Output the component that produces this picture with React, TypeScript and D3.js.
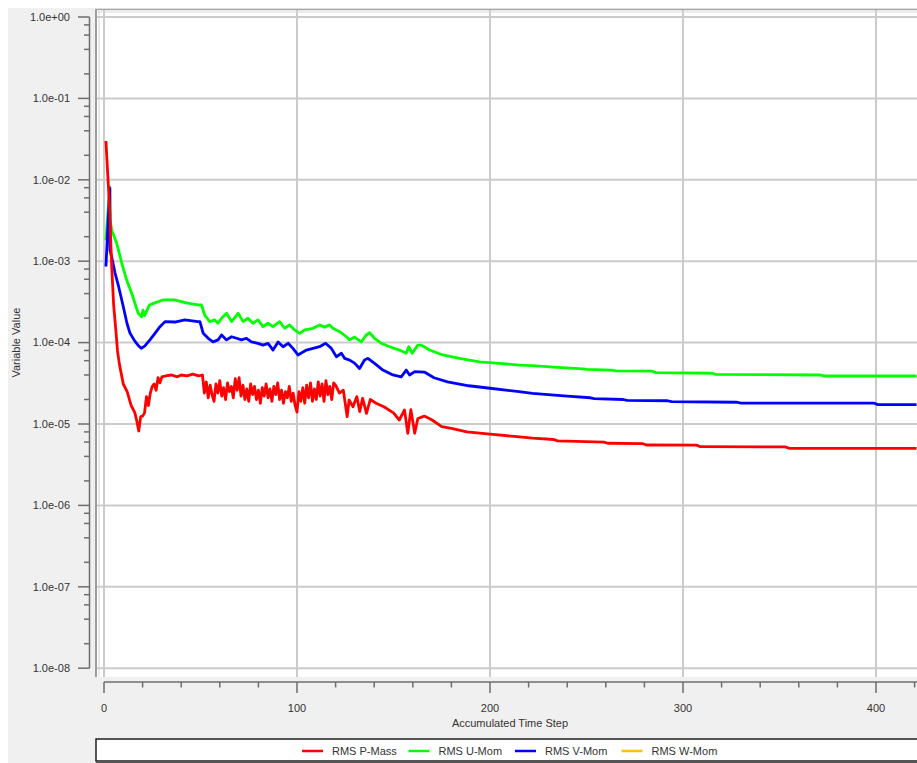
import React, { useRef, useEffect } from "react";
import { select, scaleLinear, scaleLog, line } from "d3";

// accumulated time step ticks
const stepTicks = [0, 100, 200, 300, 400];
const stepMinorTicks = [20, 40, 60, 80, 120, 140, 160, 180, 220, 240, 260, 280, 320, 340, 360, 380, 420];
const decadeTicks = [1e0, 1e-1, 1e-2, 1e-3, 1e-4, 1e-5, 1e-6, 1e-7, 1e-8];
const minorMantissas = [2, 4, 6, 8];

const seriesNames = ["RMS P-Mass", "RMS U-Mom", "RMS V-Mom", "RMS W-Mom"];
const seriesColors = ["#ff0000", "#00ff00", "#0000ff", "#ffc000"];

// [step, value]
const rmsPMass = [
  [1, 3.0e-2], [2, 1.1e-2], [3, 4.0e-3], [3.5, 1.7e-3], [4, 8.6e-4], [5, 2.9e-4], [6, 1.55e-4],
  [7, 7.9e-5], [8, 5.4e-5], [9, 4.1e-5], [10, 3.1e-5], [12, 2.5e-5], [14, 1.7e-5], [16, 1.37e-5],
  [17, 1.09e-5], [18, 8.2e-6], [19, 1.23e-5], [20, 1.25e-5], [21, 1.37e-5], [22, 2.17e-5],
  [23, 1.68e-5], [24, 2.4e-5], [25, 2.9e-5], [26, 3.1e-5], [27, 2.6e-5], [28, 3.7e-5], [29, 3.2e-5],
  [30, 3.8e-5], [32, 3.9e-5], [35, 4.0e-5], [38, 3.8e-5], [40, 4.0e-5], [43, 3.9e-5], [46, 4.1e-5],
  [49, 3.9e-5], [51, 4.0e-5],
  [52, 2.4e-5], [53, 3.3e-5], [54, 2.1e-5], [55, 3.0e-5], [56, 2.3e-5], [57, 1.9e-5], [58, 3.1e-5],
  [59, 2.4e-5], [60, 3.4e-5], [61, 2.2e-5], [62, 2.8e-5], [63, 2.0e-5], [64, 3.2e-5], [65, 2.5e-5],
  [66, 2.9e-5], [67, 2.1e-5], [68, 3.6e-5], [69, 2.6e-5], [70, 3.7e-5], [71, 2.2e-5], [72, 3.0e-5],
  [73, 2.0e-5], [74, 2.7e-5], [75, 1.9e-5], [76, 3.1e-5], [77, 2.3e-5], [78, 2.9e-5], [79, 2.0e-5],
  [80, 2.6e-5], [81, 1.8e-5], [82, 2.8e-5], [83, 2.2e-5], [84, 3.1e-5], [85, 2.1e-5], [86, 2.7e-5],
  [87, 1.9e-5], [88, 2.9e-5], [89, 2.3e-5], [90, 3.2e-5], [91, 2.0e-5], [92, 2.6e-5], [93, 1.8e-5],
  [94, 2.5e-5], [95, 2.1e-5], [96, 2.9e-5], [97, 1.9e-5], [98, 2.4e-5], [99, 1.7e-5], [100, 1.4e-5],
  [101, 2.5e-5], [102, 1.9e-5], [103, 2.8e-5], [104, 1.8e-5], [105, 3.0e-5], [106, 2.1e-5],
  [107, 3.2e-5], [108, 1.9e-5], [109, 2.7e-5], [110, 2.0e-5], [111, 3.3e-5], [112, 2.2e-5],
  [113, 3.1e-5], [114, 1.9e-5], [115, 3.4e-5], [116, 2.3e-5], [117, 2.9e-5], [118, 2.0e-5],
  [119, 3.2e-5], [120, 3.0e-5], [122, 2.4e-5], [124, 2.6e-5], [126, 1.23e-5], [127, 1.97e-5],
  [129, 1.63e-5], [131, 2.17e-5], [132.5, 1.42e-5], [134, 2.07e-5], [136, 1.35e-5], [138, 2.0e-5],
  [141, 1.8e-5], [145, 1.63e-5], [150, 1.37e-5], [153, 1.12e-5], [155.7, 1.49e-5], [157.4, 7.7e-6],
  [159, 1.5e-5], [161, 7.7e-6], [162.6, 1.17e-5], [166, 1.25e-5], [170, 1.12e-5], [175, 9.3e-6],
  [180, 8.85e-6], [188, 8.0e-6], [200, 7.5e-6], [214, 7.0e-6], [222, 6.7e-6], [233, 6.45e-6],
  [235, 6.2e-6], [259, 6.0e-6], [261, 5.8e-6], [279, 5.75e-6], [281, 5.52e-6], [307, 5.5e-6],
  [309, 5.26e-6], [353, 5.24e-6], [355, 5.03e-6], [421, 5.03e-6],
];

const rmsUMom = [
  [1, 1.8e-3], [3, 8.2e-3], [3.2, 3.2e-3], [4, 2.4e-3], [6.6, 1.66e-3], [9.2, 9.5e-4], [11.7, 5.9e-4],
  [14.3, 4.07e-4], [17.7, 2.3e-4], [19.5, 2.08e-4], [20.2, 2.5e-4], [21, 2.15e-4], [23.6, 2.9e-4],
  [26, 3.05e-4], [30.5, 3.34e-4], [36.6, 3.34e-4], [42.6, 3.07e-4], [48.6, 2.9e-4], [50.5, 2.9e-4],
  [52.2, 2.18e-4], [54.8, 1.81e-4], [57.4, 1.9e-4], [59.1, 1.73e-4], [60.9, 1.99e-4], [63.5, 2.29e-4],
  [66.1, 1.81e-4], [69.5, 2.29e-4], [72.1, 1.81e-4], [74.6, 1.99e-4], [77.2, 1.73e-4], [79.8, 1.9e-4],
  [82.4, 1.57e-4], [85, 1.73e-4], [87.6, 1.57e-4], [91, 1.81e-4], [93.6, 1.5e-4], [96.2, 1.65e-4],
  [98.8, 1.43e-4], [101.4, 1.3e-4], [104, 1.43e-4], [108.3, 1.5e-4], [111.7, 1.65e-4], [114.3, 1.55e-4],
  [116.9, 1.65e-4], [118.6, 1.5e-4], [122.1, 1.36e-4], [125.6, 1.18e-4], [127.3, 1.08e-4],
  [129.8, 1.17e-4], [133.3, 1.02e-4], [135.9, 1.24e-4], [137.6, 1.32e-4], [140.2, 1.13e-4],
  [143.7, 9.8e-5], [148, 8.9e-5], [153.1, 8.1e-5], [156.6, 7.4e-5], [157.9, 8.9e-5], [159.7, 7.4e-5],
  [162.6, 9.3e-5], [164.5, 9.3e-5], [168.7, 8.1e-5], [175.5, 7.05e-5], [184.2, 6.4e-5], [194.5, 5.8e-5],
  [204.9, 5.56e-5], [215.2, 5.3e-5], [222, 5.2e-5], [233, 5.0e-5], [248, 4.75e-5], [250, 4.7e-5],
  [263, 4.6e-5], [265, 4.5e-5], [284, 4.45e-5], [286, 4.27e-5], [315, 4.2e-5], [317, 4.08e-5],
  [371, 4.0e-5], [373, 3.89e-5], [421, 3.89e-5],
];

const rmsVMom = [
  [1, 8.6e-4], [3, 7.9e-3], [3.1, 1.37e-3], [4.1, 1.09e-3], [5.7, 7.2e-4], [7.6, 4.86e-4], [9.8, 2.9e-4],
  [11.9, 1.73e-4], [13.5, 1.3e-4], [15.9, 1.05e-4], [17.6, 9.3e-5], [19.3, 8.5e-5], [21.2, 9.1e-5],
  [23.8, 1.08e-4], [26.4, 1.3e-4], [29, 1.57e-4], [31.6, 1.81e-4], [36.7, 1.79e-4], [41.9, 1.9e-4],
  [48.6, 1.81e-4], [49.7, 1.81e-4], [51.4, 1.3e-4], [54, 1.13e-4], [56.5, 1.02e-4], [59.1, 1.08e-4],
  [60.9, 1.24e-4], [63.5, 1.08e-4], [66.1, 1.18e-4], [68.7, 1.13e-4], [71.2, 1.08e-4], [73.8, 1.13e-4],
  [76.4, 1.02e-4], [79.8, 9.8e-5], [82.4, 9.3e-5], [85, 9.8e-5], [87.6, 8.1e-5], [90.2, 1.02e-4],
  [92.8, 8.9e-5], [95.4, 9.8e-5], [97.9, 8.5e-5], [100.5, 7.05e-5], [104.9, 8.1e-5], [108.3, 8.5e-5],
  [111.7, 8.9e-5], [114.8, 9.8e-5], [117.8, 8.5e-5], [120.4, 6.7e-5], [123, 7.4e-5], [124.7, 6.4e-5],
  [127.3, 6.1e-5], [129.8, 5.6e-5], [132.4, 4.8e-5], [135, 6.1e-5], [136.7, 6.4e-5], [140.2, 5.56e-5],
  [144.5, 4.6e-5], [149.7, 4.0e-5], [154, 3.8e-5], [156.6, 4.6e-5], [158.3, 4.0e-5], [161, 4.4e-5],
  [166, 4.35e-5], [171, 3.7e-5], [178, 3.3e-5], [189, 2.95e-5], [200, 2.75e-5], [215, 2.5e-5],
  [222, 2.38e-5], [240, 2.2e-5], [252, 2.1e-5], [254, 2.05e-5], [269, 2.0e-5], [271, 1.95e-5],
  [292, 1.93e-5], [294, 1.88e-5], [328, 1.85e-5], [330, 1.8e-5], [399, 1.8e-5], [401, 1.73e-5],
  [421, 1.73e-5],
];

// W-Mom is not drawn in the plot (2D case)
const rmsWMom = [];

const fontFamily = "'Liberation Sans', Arial, sans-serif";

function expLabel(v) {
  const e = Math.round(Math.log10(v));
  return "1.0e" + (e < 0 ? "-" : "+") + String(Math.abs(e)).padStart(2, "0");
}

function ResidualChart() {
  const svgRef = useRef(null);

  useEffect(() => {
    const svg = select(svgRef.current);
    svg.selectAll("*").remove();

    const plot = { left: 96, top: 9, right: 917, bottom: 677 };

    const xScale = scaleLinear().domain([0, 400]).range([104, 876]);
    const yScale = scaleLog().domain([1e-8, 1]).range([668.2, 17]);

    // page background
    svg.append("rect").attr("width", 917).attr("height", 763).attr("fill", "#ffffff");
    svg.append("rect").attr("x", 8).attr("y", 8).attr("width", 909).attr("height", 755).attr("fill", "#f0f0f0");

    // plot area
    svg.append("rect")
      .attr("x", plot.left).attr("y", plot.top)
      .attr("width", plot.right - plot.left + 10).attr("height", plot.bottom - plot.top)
      .attr("fill", "#ffffff");

    // grid
    svg.append("g").selectAll("line").data(decadeTicks).join("line")
      .attr("x1", plot.left).attr("x2", plot.right)
      .attr("y1", (d) => yScale(d)).attr("y2", (d) => yScale(d))
      .attr("stroke", "#cbcbcb").attr("stroke-width", 2);
    svg.append("g").selectAll("line").data(stepTicks).join("line")
      .attr("x1", (d) => xScale(d)).attr("x2", (d) => xScale(d))
      .attr("y1", plot.top).attr("y2", plot.bottom)
      .attr("stroke", "#cbcbcb").attr("stroke-width", 2);

    // frame
    svg.append("line").attr("x1", 96).attr("x2", 96).attr("y1", 9).attr("y2", 677)
      .attr("stroke", "#9c9c9c").attr("stroke-width", 2);
    svg.append("line").attr("x1", 99).attr("x2", 99).attr("y1", 11).attr("y2", 677)
      .attr("stroke", "#d4d4d4").attr("stroke-width", 1);
    svg.append("line").attr("x1", 95).attr("x2", 917).attr("y1", 9.5).attr("y2", 9.5)
      .attr("stroke", "#a8a8a8").attr("stroke-width", 1.5);
    svg.append("line").attr("x1", 98).attr("x2", 917).attr("y1", 12).attr("y2", 12)
      .attr("stroke", "#dadada").attr("stroke-width", 1);

    // curves
    svg.append("clipPath").attr("id", "plot-clip")
      .append("rect").attr("x", plot.left + 1).attr("y", plot.top + 1)
      .attr("width", plot.right - plot.left).attr("height", plot.bottom - plot.top - 1);

    const lineGen = line().x((d) => xScale(d[0])).y((d) => yScale(d[1]));
    const seriesData = [rmsPMass, rmsUMom, rmsVMom, rmsWMom];
    const curves = svg.append("g").attr("clip-path", "url(#plot-clip)");
    // draw green first, then blue, red on top
    [1, 2, 0, 3].forEach((i) => {
      if (!seriesData[i].length) return;
      curves.append("path")
        .datum(seriesData[i])
        .attr("d", lineGen)
        .attr("fill", "none")
        .attr("stroke", seriesColors[i])
        .attr("stroke-width", 2.8)
        .attr("stroke-linejoin", "round");
    });

    // y axis
    const yAxis = svg.append("g");
    yAxis.append("line").attr("x1", 89.5).attr("x2", 89.5).attr("y1", yScale(1)).attr("y2", yScale(1e-8))
      .attr("stroke", "#6e6e6e").attr("stroke-width", 1.5);
    yAxis.selectAll(".major").data(decadeTicks).join("line").attr("class", "major")
      .attr("x1", 78).attr("x2", 89.5)
      .attr("y1", (d) => yScale(d)).attr("y2", (d) => yScale(d))
      .attr("stroke", "#6e6e6e").attr("stroke-width", 1.5);
    const minorVals = [];
    decadeTicks.slice(1).forEach((d) => minorMantissas.forEach((m) => minorVals.push(d * m)));
    yAxis.selectAll(".minor").data(minorVals).join("line").attr("class", "minor")
      .attr("x1", 84).attr("x2", 89.5)
      .attr("y1", (d) => yScale(d)).attr("y2", (d) => yScale(d))
      .attr("stroke", "#6e6e6e").attr("stroke-width", 1.5);
    yAxis.selectAll("text").data(decadeTicks).join("text")
      .attr("x", 70).attr("y", (d) => yScale(d)).attr("dy", "0.35em")
      .attr("text-anchor", "end")
      .attr("font-family", fontFamily).attr("font-size", 11).attr("fill", "#333")
      .text((d) => expLabel(d));
    svg.append("text")
      .attr("transform", "translate(20," + yScale(1e-4) + ") rotate(-90)")
      .attr("text-anchor", "middle")
      .attr("font-family", fontFamily).attr("font-size", 11).attr("fill", "#333")
      .text("Variable Value");

    // x axis
    const xAxis = svg.append("g");
    xAxis.append("line").attr("x1", xScale(0)).attr("x2", 917).attr("y1", 682).attr("y2", 682)
      .attr("stroke", "#6e6e6e").attr("stroke-width", 1.5);
    xAxis.selectAll(".major").data(stepTicks).join("line").attr("class", "major")
      .attr("x1", (d) => xScale(d)).attr("x2", (d) => xScale(d))
      .attr("y1", 682).attr("y2", 693)
      .attr("stroke", "#6e6e6e").attr("stroke-width", 1.5);
    xAxis.selectAll(".minor").data(stepMinorTicks).join("line").attr("class", "minor")
      .attr("x1", (d) => xScale(d)).attr("x2", (d) => xScale(d))
      .attr("y1", 682).attr("y2", 687.5)
      .attr("stroke", "#6e6e6e").attr("stroke-width", 1.5);
    xAxis.selectAll("text").data(stepTicks).join("text")
      .attr("x", (d) => xScale(d)).attr("y", 708).attr("dy", "0.35em")
      .attr("text-anchor", "middle")
      .attr("font-family", fontFamily).attr("font-size", 11).attr("fill", "#333")
      .text((d) => d);
    svg.append("text")
      .attr("x", 510).attr("y", 723).attr("dy", "0.35em")
      .attr("text-anchor", "middle")
      .attr("font-family", fontFamily).attr("font-size", 11).attr("fill", "#333")
      .text("Accumulated Time Step");

    // legend
    const legend = svg.append("g");
    legend.append("rect").attr("x", 96).attr("y", 739).attr("width", 840).attr("height", 22)
      .attr("fill", "#ffffff").attr("stroke", "#1e1e1e").attr("stroke-width", 1.5);
    legend.append("line").attr("x1", 96).attr("x2", 917).attr("y1", 762).attr("y2", 762)
      .attr("stroke", "#555").attr("stroke-width", 2);
    const items = legend.selectAll(".item").data(seriesNames).join("g").attr("class", "item")
      .attr("transform", (d, i) => "translate(" + (302 + i * 106.5) + ",751)");
    items.append("line").attr("x1", 0).attr("x2", 21).attr("y1", 0).attr("y2", 0)
      .attr("stroke", (d, i) => seriesColors[i]).attr("stroke-width", 2.5);
    items.append("text").attr("x", 30).attr("y", 0).attr("dy", "0.35em")
      .attr("font-family", fontFamily).attr("font-size", 11).attr("fill", "#333")
      .text((d) => d);
  }, []);

  return <svg ref={svgRef} width={917} height={763} style={{ display: "block" }} />;
}

export default function App() {
  return (
    <div>
      <style>{"body{margin:0;overflow:hidden;}"}</style>
      <ResidualChart />
    </div>
  );
}
